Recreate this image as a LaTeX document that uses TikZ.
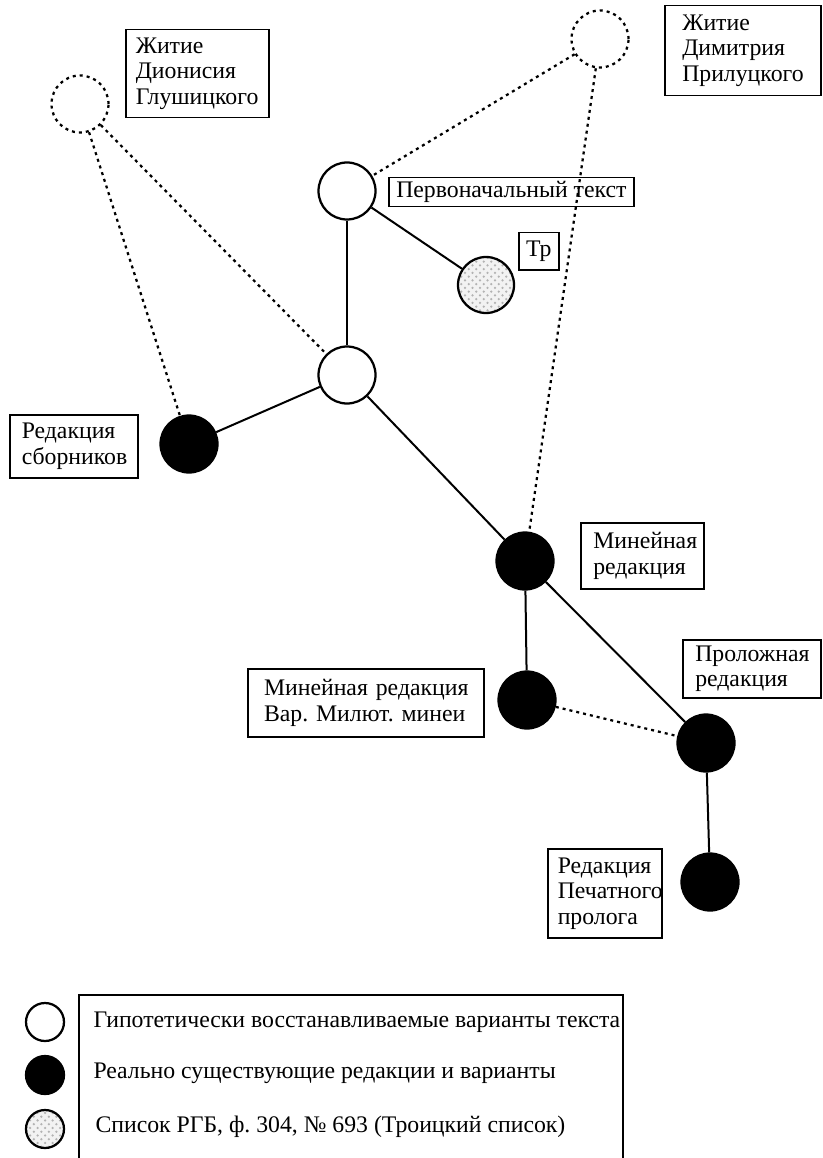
\documentclass[tikz,border=0pt]{standalone}
\usepackage{fontspec}
\setmainfont{Liberation Serif}
\usetikzlibrary{positioning}
\usetikzlibrary{patterns}
\pgfdeclarelayer{background}
\pgfdeclarelayer{foreground}
\pgfsetlayers{background,main,foreground}
\frenchspacing

\begin{document}
\begin{tikzpicture}[x=0.4pt,y=-0.4pt,
					roundnode/.style={circle, draw=black, line width=0.9pt, fill=white, minimum size=22.8pt, inner sep=0pt},
					blacknode/.style={circle, draw=black, line width=0.9pt, fill=black, minimum size=22.8pt, inner sep=0pt},
					dotnode/.style={circle, draw=black, line width=0.9pt, dash pattern=on 1.2pt off 1.6pt, minimum size=22.8pt, inner sep=0pt},
					spotnode/.style={circle, draw=black, line width=0.9pt, preaction={fill=gray!10}, pattern=crosshatch dots, pattern color=gray!60, minimum size=22.4pt, inner sep=0pt},
					labelbox/.style={rectangle, draw=black, line width=0.6pt, align=left, anchor=north west, inner xsep=4pt, inner ysep=0pt, font=\fontsize{9.5}{10.2}\selectfont},
					legendtext/.style={anchor=west, inner sep=0pt, font=\fontsize{9.5}{10.2}\selectfont},
					solidline/.style={line width=0.8pt},
					dotline/.style={line width=0.9pt, dash pattern=on 1.2pt off 1.6pt},
					]
					\useasboundingbox (0,0) rectangle (822,1158);
					%Nodes
					\node[dotnode]        (n0)      at 	(80,104)        {};
					\node[dotnode]        (n1)      at 	(600,39)        {};
					\node[roundnode]      (n2)      at 	(347,191)       {};
					\node[spotnode]       (n3)      at 	(486,285)       {};
					\node[roundnode]      (n4)      at 	(347,375)       {};
					\node[blacknode]      (n5)      at 	(189,444)       {};
					\node[blacknode]      (n6)      at 	(525,561)       {};
					\node[blacknode]      (n7)      at 	(527,700)       {};
					\node[blacknode]      (n8)      at 	(706,743)       {};
					\node[blacknode]      (n9)      at 	(710,882)       {};
					
					%Labels
					\node[labelbox, text width=49.2pt, minimum height=35.2pt]                      (l0) at (125,29)  {Житие\\Дионисия\\Глушицкого};
					\node[labelbox, inner xsep=7pt, text width=48.4pt, minimum height=36pt]        (l1) at (664,5)   {Житие\\Димитрия\\Прилуцкого};
					\node[labelbox, inner xsep=3pt, minimum height=11.6pt]                         (l2) at (388,177) {Первоначальный текст};
					\node[labelbox, align=center, inner xsep=0pt, minimum width=16pt, minimum height=14.8pt] (l3) at (518,232) {Тр};
					\node[labelbox, inner xsep=4.8pt, text width=41.6pt, minimum height=25.2pt]    (l5) at (9,414)   {Редакция\\сборников};
					\node[labelbox, inner xsep=5pt, text width=39.2pt, minimum height=26.4pt]      (l6) at (580,522) {Минейная\\редакция};
					\node[labelbox, inner xsep=6.5pt, text width=81.4pt, minimum height=27.2pt]    (l7) at (247,668) {Минейная~редакция\\Вар.~Милют.~минеи};
					\node[labelbox, inner xsep=5pt, text width=45.2pt, minimum height=23.2pt]      (l8) at (682,639) {Проложная\\редакция};
					\node[labelbox, inner xsep=4pt, text width=37.6pt, minimum height=35.6pt]      (l9) at (547,848) {Редакция\\Печатного\\пролога};
					
					%Legend
					\node[roundnode, minimum size=15.2pt] (g0) at (45,1022) {};
					\node[blacknode, minimum size=15.2pt] (g1) at (45,1075) {};
					\node[spotnode, minimum size=15.2pt]  (g2) at (45,1129) {};
					\node[legendtext] (t0) at (93,1022) {Гипотетически восстанавливаемые варианты текста};
					\node[legendtext] (t1) at (93,1073) {Реально существующие редакции и варианты};
					\node[legendtext] (t2) at (95,1127) {Список РГБ, ф. 304, № 693 (Троицкий список)};
					\draw[line width=0.6pt] (79,1170) |- (623,995) -- (623,1170);
					
					\begin{pgfonlayer}{background}
					%Lines
					\draw[solidline] (n2) -- (n3);
					\draw[solidline] (n2) -- (n4);
					\draw[solidline] (n4) -- (n5);
					\draw[solidline] (n4) -- (n6);
					\draw[solidline] (n6) -- (n7);
					\draw[solidline] (n6) -- (n8);
					\draw[solidline] (n8) -- (n9);
					\draw[dotline] (n7) -- (n8);
					\draw[dotline] (n0) -- (n4);
					\draw[dotline] (n0) -- (n5);
					\draw[dotline] (n1) -- (n2);
					\draw[dotline] (n1) -- (n6);
					\end{pgfonlayer}
				\end{tikzpicture}
\end{document}
